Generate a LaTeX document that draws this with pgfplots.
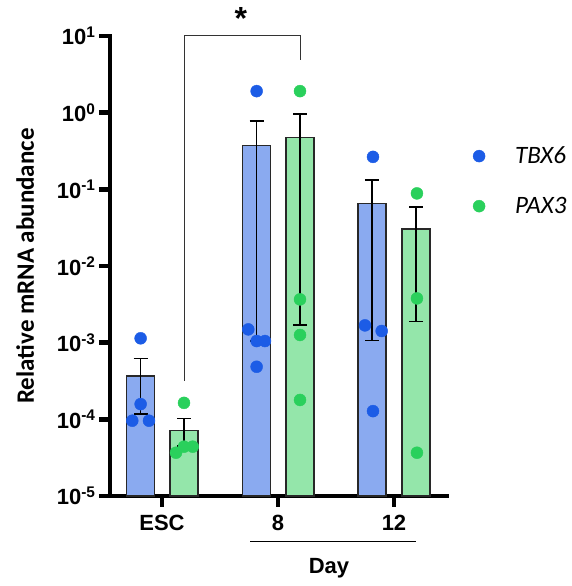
\documentclass[border=0pt]{standalone}
\usepackage{fontspec}
\setmainfont{Liberation Sans}
\newfontfamily\calibri{Carlito}
\usepackage{pgfplots}
\usepackage{pgfplotstable}
\pgfplotsset{compat=1.18}

\definecolor{tbxdot}{RGB}{28,92,230}
\definecolor{tbxbar}{RGB}{138,170,240}
\definecolor{paxdot}{RGB}{42,208,92}
\definecolor{paxbar}{RGB}{148,230,170}
\definecolor{edge}{RGB}{40,40,40}

% bar means with SEM limits (lo/hi)
\pgfplotstableread{
x y lo hi
-0.185 3.67e-4 1.17e-4 6.2e-4
0.816 0.377 1.05e-3 0.774
1.81 0.0655 1.07e-3 0.132
}\tbxbars
\pgfplotstableread{
x y lo hi
0.19 7.1e-5 4.5e-5 1.03e-4
1.19 0.475 1.7e-3 0.966
2.19 0.0303 1.89e-3 0.0592
}\paxbars
% individual replicates
\pgfplotstableread{
x y
-0.184 1.14e-3
-0.184 1.58e-4
-0.256 9.6e-5
-0.112 9.6e-5
0.816 1.91
0.744 1.49e-3
0.816 1.05e-3
0.888 1.05e-3
0.816 4.85e-4
1.819 0.265
1.75 1.68e-3
1.894 1.42e-3
1.819 1.28e-4
}\tbxdots
\pgfplotstableread{
x y
0.19 1.64e-4
0.121 3.67e-5
0.19 4.4e-5
0.265 4.4e-5
1.19 1.91
1.19 3.67e-3
1.19 1.26e-3
1.19 1.79e-4
2.198 0.0885
2.198 3.78e-3
2.198 3.67e-5
}\paxdots

\begin{document}
\begin{tikzpicture}
\path[use as bounding box] (-110pt,-90pt) rectangle (462pt,496pt);
\begin{axis}[
  scale only axis, width=337pt, height=460pt,
  xmin=-0.448, xmax=2.457,
  ymode=log, ymin=1e-5, ymax=10, log origin=infty,
  axis x line*=bottom, axis y line*=left,
  axis line style={line width=4.5pt, line cap=rect},
  tick align=outside, major tick length=11pt,
  tick style={line width=4.5pt, black},
  yminorticks=false,
  xtick={0,1,2}, xticklabels={ESC,8,12},
  ytick={1e-5,1e-4,1e-3,1e-2,1e-1,1,10},
  yticklabels={10\textsuperscript{-5},10\textsuperscript{-4},10\textsuperscript{-3},10\textsuperscript{-2},10\textsuperscript{-1},10\textsuperscript{0},10\textsuperscript{1}},
  ticklabel style={font=\fontsize{22}{25}\selectfont\bfseries},
  xticklabel style={yshift=-5pt},
  ylabel={\calibri\bfseries Relative mRNA abundance},
  ylabel style={font=\fontsize{25}{28}\selectfont, at={(axis description cs:-0.252,0.5)}, anchor=center},
  clip=false,
  legend style={draw=none, fill=none, at={(1.068,0.768)}, anchor=north west,
    font=\calibri\itshape\fontsize{25}{29}\selectfont, row sep=28pt,
    /tikz/every odd column/.append style={column sep=28pt}},
  legend cell align=left,
]
\addplot[ybar, bar width=28pt, bar shift=0pt, fill=tbxbar, draw=edge, line width=1.3pt, forget plot,
  error bars/.cd, y dir=both, y explicit,
  error bar style={black, line width=1.5pt},
  error mark options={rotate=90, mark size=7pt, line width=1.5pt, black}]
  table[x=x, y=y, y error plus expr=\thisrow{hi}-\thisrow{y}, y error minus expr=\thisrow{y}-\thisrow{lo}] {\tbxbars};
\addplot[ybar, bar width=28pt, bar shift=0pt, fill=paxbar, draw=edge, line width=1.3pt, forget plot,
  error bars/.cd, y dir=both, y explicit,
  error bar style={black, line width=1.5pt},
  error mark options={rotate=90, mark size=7pt, line width=1.5pt, black}]
  table[x=x, y=y, y error plus expr=\thisrow{hi}-\thisrow{y}, y error minus expr=\thisrow{y}-\thisrow{lo}] {\paxbars};
\addplot[only marks, mark=*, mark size=6pt, color=tbxdot] table {\tbxdots};
\addlegendentry{TBX6}
\addplot[only marks, mark=*, mark size=6pt, color=paxdot] table {\paxdots};
\addlegendentry{PAX3}

% significance bracket
\draw[line width=1pt, black!80] (axis cs:0.19,3.2e-4) |- (axis cs:1.19,10) -- (axis cs:1.19,4.83);
\node[font=\fontsize{32}{32}\selectfont\bfseries] at ([yshift=6pt]axis cs:0.68,14) {*};
% day grouping
\draw[line width=1pt] ([yshift=-45pt]axis cs:0.759,1e-5) -- ([yshift=-45pt]axis cs:2.19,1e-5);
\node[font=\fontsize{22}{25}\selectfont\bfseries] at ([yshift=-72pt]axis cs:1.44,1e-5) {Day};
\end{axis}
\end{tikzpicture}
\end{document}
